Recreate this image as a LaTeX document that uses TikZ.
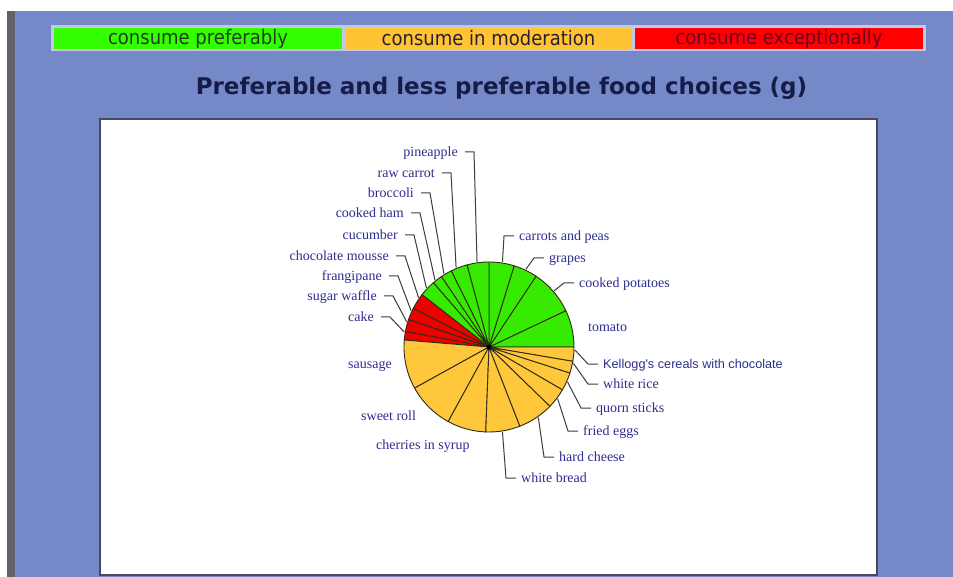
\documentclass[tikz,border=0pt]{standalone}
\usepackage{fontspec}
\setmainfont{Liberation Serif}
\newfontfamily\titlefont{DejaVu Sans}
\newfontfamily\legendfont[FakeStretch=0.9]{DejaVu Sans}
\newfontfamily\kelfont{Liberation Sans}
\usetikzlibrary{calc, positioning}

\definecolor{bgblue}{RGB}{117,137,200}
\definecolor{stripgray}{RGB}{98,98,104}
\definecolor{legframe}{RGB}{196,200,230}
\definecolor{lgreen}{RGB}{51,255,0}
\definecolor{lorange}{RGB}{255,196,51}
\definecolor{lred}{RGB}{255,0,0}
\definecolor{ltxtgreen}{RGB}{30,62,30}
\definecolor{ltxtorange}{RGB}{40,32,48}
\definecolor{ltxtred}{RGB}{112,0,40}
\definecolor{pgreen}{RGB}{55,235,0}
\definecolor{porange}{RGB}{255,200,60}
\definecolor{pred}{RGB}{238,0,0}
\definecolor{slicedge}{RGB}{48,44,20}
\definecolor{leadgray}{RGB}{60,60,60}
\definecolor{lblblue}{RGB}{45,45,145}
\definecolor{titlenavy}{RGB}{22,28,72}
\definecolor{panelrim}{RGB}{70,72,100}

\tikzset{
  cell/.style={inner sep=0pt, minimum height=21pt,
    font=\legendfont\fontsize{20}{22}\selectfont},
  lbl/.style={inner sep=0pt, text=lblblue, text height=2.2ex, text depth=.2ex,
    font=\fontsize{14}{16}\selectfont},
  leader/.style={draw=leadgray, line width=1pt},
  slice/.style={draw=slicedge, line width=.9pt, line join=round},
}

\begin{document}
\begin{tikzpicture}[x=1pt, y=-1pt]
    \useasboundingbox (0,0) rectangle (953,577);
    \fill[white] (0,0) rectangle (953,577);
    \fill[bgblue] (15,11) rectangle (953,577);
    \fill[stripgray] (7,11) rectangle (15,577);

    % legend bar
    \fill[legframe] (51,25) rectangle (926,51);
    \node[cell, fill=lgreen, minimum width=288pt, text=ltxtgreen] (pref) at (198,38.5) {consume preferably};
    \node[cell, fill=lorange, minimum width=287pt, text=ltxtorange] (moder) at (488.5,38.5) {consume in moderation};
    \node[cell, fill=lred, minimum width=288pt, text=ltxtred] (except) at (779,38.5) {consume exceptionally};

    \node[anchor=base, inner sep=0pt, text=titlenavy, font=\titlefont\bfseries\fontsize{23}{27}\selectfont] (title) at (501.5,95) {Preferable and less preferable food choices (g)};

    % chart panel
    \draw[panelrim, line width=1.6pt, fill=white] (100,119) rectangle (877,575);

    % the pie
    \begin{scope}[shift={(489,347)}, yscale=-1]
      \foreach \a/\b/\c in {0/25.3/pgreen, 25.3/56.4/pgreen, 56.4/72.8/pgreen, 72.8/90/pgreen,
          90/105/pgreen, 105/116.4/pgreen, 116.4/124.1/pgreen, 124.1/130.9/pgreen, 130.9/142/pgreen,
          142/153/pred, 153/161.2/pred, 161.2/169.5/pred, 169.5/175.3/pred,
          175.3/208.9/porange, 208.9/241.3/porange, 241.3/267.8/porange, 267.8/291.3/porange,
          291.3/315.8/porange, 315.8/329.8/porange, 329.8/342.2/porange, 342.2/350.4/porange, 350.4/360/porange}
        \draw[slice, fill=\c] (0,0) -- (\a:85) arc[start angle=\a, end angle=\b, radius=85] -- cycle;
      \fill[black] (0,0) circle (2.5);
      \foreach \n/\t in {pine/98, rcarrot/112.5, brocc/121.6, ham/128.9, cucum/136.7,
          mousse/145, frang/155, waffle/163, cake/170,
          carrots/81, grapes/64.6, potat/40.8, kell/358, rice/349, quorn/336,
          eggs/323, cheese/305, bread/279}
        \coordinate (r-\n) at (\t:86);
    \end{scope}

    % labels on the left
    \node[lbl, anchor=east] (pine) at (458,152) {pineapple};
    \node[lbl, anchor=east] (rcarrot) at (435,173) {raw carrot};
    \node[lbl, anchor=east] (brocc) at (414,193) {broccoli};
    \node[lbl, anchor=east] (ham) at (404,213) {cooked ham};
    \node[lbl, anchor=east] (cucum) at (398,235) {cucumber};
    \node[lbl, anchor=east] (mousse) at (389,256) {chocolate mousse};
    \node[lbl, anchor=east] (frang) at (382,276) {frangipane};
    \node[lbl, anchor=east] (waffle) at (377,296) {sugar waffle};
    \node[lbl, anchor=east] (cake) at (374,317) {cake};
    \foreach \n in {pine, rcarrot, brocc, ham, cucum, mousse, frang, waffle, cake}
      \draw[leader] ([xshift=7pt]\n.east) -- ++(9,0) -- (r-\n);

    % labels on the right
    \node[lbl, anchor=west] (carrots) at (519,236) {carrots and peas};
    \node[lbl, anchor=west] (grapes) at (549,258) {grapes};
    \node[lbl, anchor=west] (potat) at (579,283) {cooked potatoes};
    \node[lbl, anchor=west] (tomato) at (588,327) {tomato};
    \node[lbl, anchor=west, font=\kelfont\fontsize{12.7}{15}\selectfont] (kell) at (603,364) {Kellogg's cereals with chocolate};
    \node[lbl, anchor=west] (rice) at (603,384) {white rice};
    \node[lbl, anchor=west] (quorn) at (596,408) {quorn sticks};
    \node[lbl, anchor=west] (eggs) at (583,431) {fried eggs};
    \node[lbl, anchor=west] (cheese) at (559,457) {hard cheese};
    \node[lbl, anchor=west] (bread) at (521,478) {white bread};
    \foreach \n in {carrots, grapes, potat, kell, rice, quorn, eggs, cheese, bread}
      \draw[leader] (r-\n) -- ([xshift=-15pt]\n.west) -- ([xshift=-5pt]\n.west);

    % labels without leaders
    \node[lbl, anchor=west] (sausage) at (348,364) {sausage};
    \node[lbl, anchor=west] (sroll) at (361,416) {sweet roll};
    \node[lbl, anchor=west] (cherry) at (376,445) {cherries in syrup};
\end{tikzpicture}
\end{document}
